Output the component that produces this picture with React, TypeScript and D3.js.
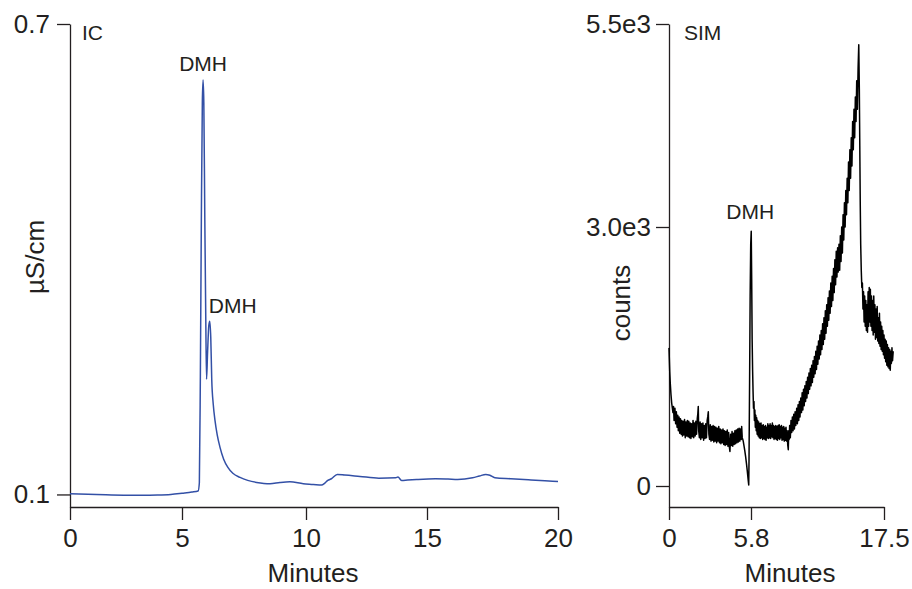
import React, { useEffect, useRef } from "react";
import * as d3 from "d3";

const WIDTH = 912;
const HEIGHT = 589;
const INK = "#231f20";
const FONT = "'Liberation Sans', Arial, Helvetica, sans-serif";
const IC_BLUE = "#3350a6";

// IC trace
const icMinutes = [
  0.0, 0.8, 1.6, 2.4, 3.2, 3.9, 4.5, 5.0, 5.4, 5.65, 5.7, 5.74, 5.78, 5.82, 5.85,
  5.88, 5.92, 5.96, 5.99, 6.03, 6.08, 6.12, 6.16, 6.2, 6.26, 6.33, 6.42, 6.53,
  6.68, 6.85, 7.05, 7.34, 7.65, 8.01, 8.3, 8.55, 8.95, 9.35, 9.89, 10.3, 10.64,
  10.78, 10.9, 11.05, 11.29, 11.6, 12.23, 13.01, 13.71, 13.8, 13.95, 14.2, 14.57,
  15.32, 15.8, 16.17, 16.74, 17.0, 17.24, 17.4, 17.59, 18.2, 18.87, 19.5, 20.0,
];
const icValues = [
  0.1009, 0.1003, 0.0995, 0.099, 0.0989, 0.0992, 0.1, 0.1015, 0.103, 0.1045,
  0.115, 0.25, 0.45, 0.6, 0.6285, 0.6, 0.45, 0.32, 0.247, 0.28, 0.315, 0.321,
  0.3, 0.246, 0.215, 0.1945, 0.176, 0.1604, 0.145, 0.1345, 0.127, 0.1217, 0.118,
  0.1153, 0.114, 0.1136, 0.1153, 0.1162, 0.1137, 0.1128, 0.1119, 0.1145, 0.1179,
  0.12, 0.1255, 0.1248, 0.123, 0.1208, 0.1213, 0.1222, 0.1179, 0.1184, 0.1191,
  0.12, 0.1196, 0.1191, 0.1213, 0.1235, 0.1255, 0.1245, 0.1213, 0.12, 0.1187,
  0.1175, 0.1166,
];
const icTicksX = [0, 5, 10, 15, 20];
const icTicksY = [0.1, 0.7];

// SIM trace [minutes, counts]
const simTrace: [number, number][] = [
  [0.0, 1600], [0.02, 1490], [0.05, 1330], [0.09, 1190], [0.14, 1060], [0.19, 960],
  [0.24, 900], [0.28, 850], [0.32, 920], [0.36, 760], [0.42, 900], [0.47, 720],
  [0.52, 860], [0.57, 680], [0.62, 820], [0.66, 640], [0.71, 800], [0.76, 610],
  [0.81, 780], [0.86, 600], [0.9, 760], [0.95, 580], [1.0, 750], [1.05, 590],
  [1.1, 770], [1.15, 560], [1.2, 740], [1.25, 580], [1.3, 760], [1.35, 570],
  [1.4, 750], [1.45, 560], [1.5, 730], [1.55, 550], [1.6, 720], [1.65, 570],
  [1.7, 760], [1.75, 560], [1.8, 730], [1.85, 580], [1.9, 750], [1.95, 600],
  [2.0, 780], [2.04, 840], [2.07, 920], [2.1, 640], [2.15, 560], [2.2, 740],
  [2.25, 540], [2.3, 720], [2.35, 560], [2.4, 730], [2.45, 530], [2.5, 700],
  [2.55, 550], [2.6, 720], [2.65, 560], [2.7, 760], [2.74, 800], [2.78, 860],
  [2.82, 600], [2.87, 540], [2.92, 710], [2.97, 520], [3.02, 690], [3.07, 530],
  [3.12, 700], [3.17, 510], [3.22, 690], [3.27, 520], [3.32, 680], [3.37, 500],
  [3.42, 670], [3.47, 520], [3.52, 690], [3.57, 500], [3.62, 660], [3.67, 490],
  [3.72, 650], [3.77, 500], [3.82, 660], [3.87, 480], [3.92, 640], [3.97, 470],
  [4.02, 630], [4.07, 480], [4.12, 650], [4.17, 460], [4.22, 620], [4.27, 450],
  [4.31, 400], [4.36, 600], [4.41, 470], [4.46, 630], [4.51, 460], [4.56, 610],
  [4.61, 480], [4.66, 640], [4.71, 490], [4.76, 650], [4.81, 500], [4.86, 660],
  [4.91, 510], [4.96, 670], [5.01, 520], [5.06, 660], [5.11, 540], [5.14, 690],
  [5.18, 560], [5.22, 540], [5.25, 520], [5.3, 470], [5.36, 410], [5.42, 340],
  [5.48, 260], [5.54, 170], [5.6, 70], [5.64, 12],
  [5.66, 300], [5.7, 1200], [5.74, 2200], [5.78, 2800], [5.82, 2950], [5.86, 2400],
  [5.9, 1700], [5.94, 1350], [5.98, 1100], [6.02, 900], [6.06, 980], [6.1, 760],
  [6.14, 880], [6.18, 680], [6.22, 820], [6.26, 640], [6.3, 790], [6.34, 600],
  [6.38, 760], [6.43, 580], [6.48, 740], [6.53, 560], [6.58, 720], [6.63, 550],
  [6.68, 730], [6.73, 560], [6.78, 700], [6.83, 540], [6.88, 710], [6.93, 550],
  [6.98, 690], [7.03, 540], [7.08, 700], [7.13, 530], [7.18, 680], [7.23, 560],
  [7.28, 720], [7.33, 550], [7.38, 700], [7.43, 560], [7.48, 720], [7.53, 550],
  [7.58, 700], [7.63, 570], [7.68, 730], [7.73, 560], [7.78, 700], [7.83, 540],
  [7.88, 690], [7.93, 550], [7.98, 700], [8.03, 540], [8.08, 690], [8.13, 530],
  [8.18, 700], [8.23, 550], [8.28, 710], [8.33, 540], [8.38, 690], [8.43, 560],
  [8.48, 700], [8.53, 530], [8.58, 680], [8.63, 540], [8.68, 690], [8.73, 520],
  [8.78, 670], [8.83, 530], [8.88, 680], [8.93, 520], [8.98, 640], [9.03, 480],
  [9.08, 420], [9.12, 640], [9.16, 540],
  [9.2, 700], [9.26, 560], [9.32, 760], [9.38, 620], [9.44, 800], [9.5, 640],
  [9.56, 830], [9.62, 660], [9.68, 860], [9.74, 700], [9.82, 900], [9.88, 720],
  [9.94, 940], [10.0, 760], [10.06, 980], [10.11, 800], [10.18, 1020], [10.24, 850],
  [10.3, 1080], [10.36, 880], [10.42, 1120], [10.48, 930], [10.54, 1160], [10.6, 980],
  [10.66, 1210], [10.72, 1020], [10.78, 1260], [10.84, 1070], [10.9, 1310], [10.96, 1120],
  [11.02, 1360], [11.08, 1160], [11.14, 1400], [11.2, 1200], [11.26, 1450], [11.32, 1260],
  [11.38, 1500], [11.44, 1300], [11.5, 1560], [11.56, 1350], [11.62, 1620], [11.68, 1410],
  [11.74, 1680], [11.8, 1470], [11.86, 1750], [11.92, 1520], [11.98, 1800], [12.04, 1580],
  [12.1, 1880], [12.16, 1640], [12.22, 1950], [12.28, 1700], [12.34, 2030], [12.4, 1770],
  [12.46, 2100], [12.52, 1850], [12.58, 2180], [12.64, 1920], [12.7, 2260], [12.76, 2000],
  [12.82, 2350], [12.88, 2080], [12.94, 2430], [13.0, 2150], [13.06, 2520], [13.12, 2240],
  [13.18, 2620], [13.24, 2330], [13.3, 2720], [13.36, 2420], [13.42, 2760], [13.48, 2480],
  [13.54, 2800], [13.6, 2500], [13.66, 2900], [13.72, 2600], [13.78, 3000], [13.84, 2700],
  [13.9, 3150], [13.96, 2850], [14.02, 3300], [14.08, 3000], [14.14, 3450], [14.2, 3150],
  [14.26, 3600], [14.32, 3300], [14.38, 3800], [14.44, 3450], [14.5, 3950], [14.56, 3600],
  [14.62, 4100], [14.68, 3750], [14.74, 4300], [14.8, 3950], [14.86, 4450], [14.92, 4100],
  [14.98, 4600], [15.04, 4300], [15.1, 4800], [15.16, 4450], [15.22, 4950], [15.28, 5243],
  [15.33, 4700], [15.37, 4000], [15.41, 3300], [15.45, 2800], [15.5, 2500], [15.55, 2300],
  [15.6, 2350], [15.65, 2050], [15.7, 2250], [15.75, 1900], [15.8, 2200], [15.85, 1850],
  [15.9, 2150], [15.95, 1800], [16.0, 2100], [16.05, 1780], [16.1, 2250], [16.15, 1850],
  [16.2, 2300], [16.25, 1900], [16.3, 2280], [16.35, 1850], [16.4, 2200], [16.45, 1800],
  [16.5, 2150], [16.55, 1750], [16.6, 2200], [16.65, 1780], [16.7, 2100], [16.75, 1700],
  [16.8, 2050], [16.85, 1720], [16.9, 2080], [16.95, 1680], [17.0, 1950], [17.05, 1650],
  [17.1, 2000], [17.15, 1620], [17.2, 1900], [17.25, 1580], [17.3, 1850], [17.35, 1560],
  [17.4, 1800], [17.45, 1520], [17.5, 1750], [17.55, 1480], [17.6, 1700], [17.65, 1440],
  [17.7, 1680], [17.75, 1400], [17.8, 1640], [17.85, 1380], [17.9, 1600], [17.95, 1360],
  [18.0, 1580], [18.05, 1340], [18.1, 1560], [18.15, 1420], [18.2, 1600], [18.25, 1450],
  [18.31, 1560],
];
const simTicksX = [0, 5.8, 17.5];
const simTicksY = [0, 3000, 5500];
const simTickLabelsY = ["0", "3.0e3", "5.5e3"];

function styleAxis(g: any) {
  g.attr("font-size", 26).attr("font-family", FONT);
  g.select(".domain").attr("stroke", INK).attr("stroke-width", 1.3);
  g.selectAll(".tick line").attr("stroke", INK).attr("stroke-width", 1.3);
  g.selectAll(".tick text").attr("fill", INK);
}

function label(svg: any, x: number, y: number, text: string, size: number, anchor = "start") {
  return svg
    .append("text")
    .attr("x", x)
    .attr("y", y)
    .attr("font-family", FONT)
    .attr("font-size", size)
    .attr("fill", INK)
    .attr("text-anchor", anchor)
    .text(text);
}

function drawIC(svg: any) {
  // the printed ticks are not evenly spaced, so the scale is piecewise
  const x = d3.scaleLinear().domain(icTicksX).range([70, 182, 306, 427, 558]);
  const y = d3.scaleLinear().domain([0.084, 0.7]).range([507, 24]);

  svg
    .append("g")
    .attr("transform", "translate(0,507)")
    .call(d3.axisBottom(x).tickValues(icTicksX).tickSize(13).tickSizeOuter(0).tickPadding(9))
    .call(styleAxis);

  svg
    .append("g")
    .attr("transform", "translate(70,0)")
    .call(d3.axisLeft(y).tickValues(icTicksY).tickSize(13).tickSizeOuter(0).tickPadding(7).tickFormat(d3.format(".1f")))
    .call(styleAxis);

  const pts = icMinutes.map((m, i) => [m, icValues[i]] as [number, number]);
  const line = d3
    .line<[number, number]>()
    .x((d) => x(d[0]))
    .y((d) => y(d[1]))
    .curve(d3.curveMonotoneX);

  svg
    .append("path")
    .attr("d", line(pts))
    .attr("fill", "none")
    .attr("stroke", IC_BLUE)
    .attr("stroke-width", 1.5)
    .attr("stroke-linejoin", "round");

  // peak labels
  const main = pts[d3.maxIndex(pts, (d) => d[1])];
  const second = pts[21];
  label(svg, x(main[0]), y(main[1]) - 9, "DMH", 21, "middle");
  label(svg, x(second[0]) - 1, y(second[1]) - 8, "DMH", 21);

  label(svg, 82, 40, "IC", 21);
  label(svg, 0, 0, "µS/cm", 26, "middle").attr("transform", "translate(44,257) rotate(-90)");
  label(svg, 313, 582, "Minutes", 26, "middle");
}

function drawSIM(svg: any) {
  const x = d3.scaleLinear().domain(simTicksX).range([669, 751, 884]);
  const y = d3.scaleLinear().domain([-240, 0, 3000, 5500]).range([507, 486, 227, 24]);

  svg
    .append("g")
    .attr("transform", "translate(0,507)")
    .call(d3.axisBottom(x).tickValues(simTicksX).tickSize(13).tickSizeOuter(0).tickPadding(9).tickFormat((d: any) => String(d)))
    .call(styleAxis);

  svg
    .append("g")
    .attr("transform", "translate(669,0)")
    .call(
      d3
        .axisLeft(y)
        .tickValues(simTicksY)
        .tickSize(13)
        .tickSizeOuter(0)
        .tickPadding(5)
        .tickFormat((d: any, i: number) => simTickLabelsY[i])
    )
    .call(styleAxis);

  const line = d3
    .line<[number, number]>()
    .x((d) => x(d[0]))
    .y((d) => y(d[1]));

  svg
    .append("path")
    .attr("d", line(simTrace))
    .attr("fill", "none")
    .attr("stroke", "#000")
    .attr("stroke-width", 1.5)
    .attr("stroke-linejoin", "round");

  // DMH spike label sits above the spike near 5.8 min
  const spike = simTrace
    .filter((d) => d[0] < 7)
    .reduce((a, b) => (b[1] > a[1] ? b : a));
  label(svg, x(spike[0]) - 1, y(spike[1]) - 12, "DMH", 21, "middle");

  label(svg, 684, 40, "SIM", 21);
  label(svg, 0, 0, "counts", 26, "middle").attr("transform", "translate(630,303) rotate(-90)");
  label(svg, 790, 582, "Minutes", 26, "middle");
}

export default function App() {
  const ref = useRef<SVGSVGElement | null>(null);

  useEffect(() => {
    const svg = d3.select(ref.current);
    svg.selectAll("*").remove();
    drawIC(svg);
    drawSIM(svg);
  }, []);

  return (
    <svg
      ref={ref}
      width={WIDTH}
      height={HEIGHT}
      style={{ position: "absolute", left: 0, top: 0, background: "#fff" }}
    />
  );
}
